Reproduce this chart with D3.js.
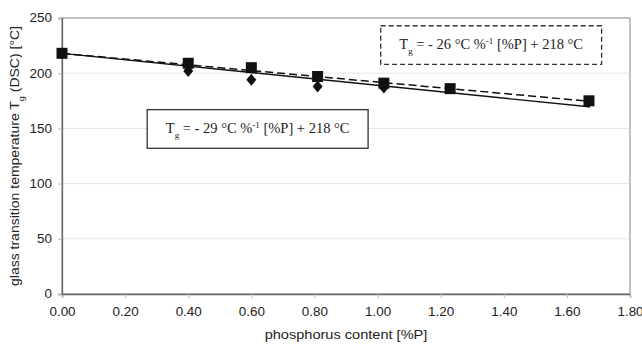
<!DOCTYPE html>
<html>
<head>
<meta charset="utf-8">
<script src="https://cdn.jsdelivr.net/npm/d3@7"></script>
<style>
  body { margin: 0; background: #fff; }
  svg text { fill: #222; }
</style>
</head>
<body>
<div id="chart"></div>
<script>
// phosphorus content [%P] and Tg (DSC) [°C]
const squareX = [0.00, 0.40, 0.60, 0.81, 1.02, 1.23, 1.67]
const squareY = [218, 209, 205, 197, 191, 186, 175]
const diamondX = [0.00, 0.40, 0.60, 0.81, 1.02, 1.67]
const diamondY = [218, 202, 194, 188, 187, 174]

// linear fits
const fitSolid = {slope: -29, icept: 218, label: "29"}
const fitDashed = {slope: -26, icept: 218, label: "26"}
const fitRange = [0, 1.67]

const xTicks = [0, 0.2, 0.4, 0.6, 0.8, 1.0, 1.2, 1.4, 1.6, 1.8]
const yTicks = [0, 50, 100, 150, 200, 250]

const W = 642, H = 345
const margin = {top: 18, bottom: 51, left: 62, right: 12}
const sans = "'Liberation Sans', Arial, sans-serif"
const serif = "'Liberation Serif', 'Times New Roman', serif"
const stretch = 1.12

const svg = d3.select("#chart").append("svg")
    .attr("width", W).attr("height", H)

const x = d3.scaleLinear().domain([0, 1.8]).range([margin.left, W - margin.right])
const y = d3.scaleLinear().domain([0, 250]).range([H - margin.bottom, margin.top])

// widen the sans labels a little, the source font is broader than Arial
function widen(sel) {
    sel.each(function() {
        const len = this.getComputedTextLength()
        d3.select(this).attr("textLength", len * stretch).attr("lengthAdjust", "spacingAndGlyphs")
    })
}

// grid
svg.selectAll("line.grid").data(yTicks.filter(d => d > 0 && d < 250))
    .enter().append("line").attr("class", "grid")
    .attr("x1", x(0)).attr("x2", x(1.8))
    .attr("y1", d => y(d)).attr("y2", d => y(d))
    .attr("stroke", "#e6e6e6").attr("stroke-width", 1)

// frame
svg.append("rect")
    .attr("x", x(0)).attr("y", y(250))
    .attr("width", x(1.8) - x(0)).attr("height", y(0) - y(250))
    .attr("fill", "none").attr("stroke", "#999").attr("stroke-width", 1.2)

// axes
const xAxis = svg.append("g")
    .attr("transform", `translate(0,${y(0)})`)
    .call(d3.axisBottom(x).tickValues(xTicks).tickFormat(d3.format(".2f")).tickSize(4).tickPadding(9))
const yAxis = svg.append("g")
    .attr("transform", `translate(${x(0)},0)`)
    .call(d3.axisLeft(y).tickValues(yTicks).tickSize(4).tickPadding(6))

for (const g of [xAxis, yAxis]) {
    g.select(".domain").attr("stroke", "#666").attr("stroke-width", 1.3)
    g.selectAll(".tick line").attr("stroke", "#bbb")
    g.selectAll(".tick text")
        .attr("font-family", sans)
        .attr("font-size", 12).attr("fill", "#333")
        .call(widen)
}

// axis titles
svg.append("text")
    .attr("x", (x(0) + x(1.8)) / 2).attr("y", H - 6)
    .attr("text-anchor", "middle")
    .attr("font-family", sans).attr("font-size", 13)
    .text("phosphorus content [%P]")
    .call(widen)

const yt = svg.append("text")
    .attr("transform", `translate(19,${(y(0) + y(250)) / 2}) rotate(-90) scale(${stretch},1)`)
    .attr("text-anchor", "middle")
    .attr("font-family", sans).attr("font-size", 12.5)
yt.append("tspan").text("glass transition temperature T")
yt.append("tspan").attr("baseline-shift", "sub").attr("font-size", 8).text("g")
yt.append("tspan").text(" (DSC) [°C]")

// fit lines
function fitLine(f) {
    return d3.line().x(d => x(d)).y(d => y(f.slope * d + f.icept))(fitRange)
}
svg.append("path").attr("d", fitLine(fitSolid))
    .attr("fill", "none").attr("stroke", "#111").attr("stroke-width", 1.4)
svg.append("path").attr("d", fitLine(fitDashed))
    .attr("fill", "none").attr("stroke", "#111").attr("stroke-width", 1.5)
    .attr("stroke-dasharray", "8,4")

// markers
const dw = 5, dh = 6
svg.selectAll("path.diamond").data(diamondX)
    .enter().append("path").attr("class", "diamond")
    .attr("transform", (d, i) => `translate(${x(d)},${y(diamondY[i])})`)
    .attr("d", `M0,${-dh}L${dw},0L0,${dh}L${-dw},0Z`)
    .attr("fill", "#111")
svg.selectAll("rect.square").data(squareX)
    .enter().append("rect").attr("class", "square")
    .attr("x", (d) => x(d) - 5.5).attr("y", (d, i) => y(squareY[i]) - 5.5)
    .attr("width", 11).attr("height", 11)
    .attr("fill", "#111")

// equation boxes
function eqBox(f, bx0, bx1, by0, by1, dashed) {
    const g = svg.append("g")
    g.append("rect")
        .attr("x", x(bx0)).attr("y", y(by0))
        .attr("width", x(bx1) - x(bx0)).attr("height", y(by1) - y(by0))
        .attr("fill", "#fff").attr("stroke", "#333").attr("stroke-width", 1.3)
        .attr("stroke-dasharray", dashed ? "5,3" : null)
    const t = g.append("text")
        .attr("x", (x(bx0) + x(bx1)) / 2).attr("y", (y(by0) + y(by1)) / 2 + 4)
        .attr("text-anchor", "middle")
        .attr("font-family", serif).attr("font-size", 14.5)
    t.append("tspan").text("T")
    t.append("tspan").attr("baseline-shift", "sub").attr("font-size", 9).text("g")
    t.append("tspan").text(` = - ${f.label} °C %`)
    t.append("tspan").attr("baseline-shift", "super").attr("font-size", 9).text("-1")
    t.append("tspan").text(" [%P] + 218 °C")
}
eqBox(fitSolid, 0.27, 0.97, 167, 132, false)
eqBox(fitDashed, 1.01, 1.71, 243, 208, true)
</script>
</body>
</html>
